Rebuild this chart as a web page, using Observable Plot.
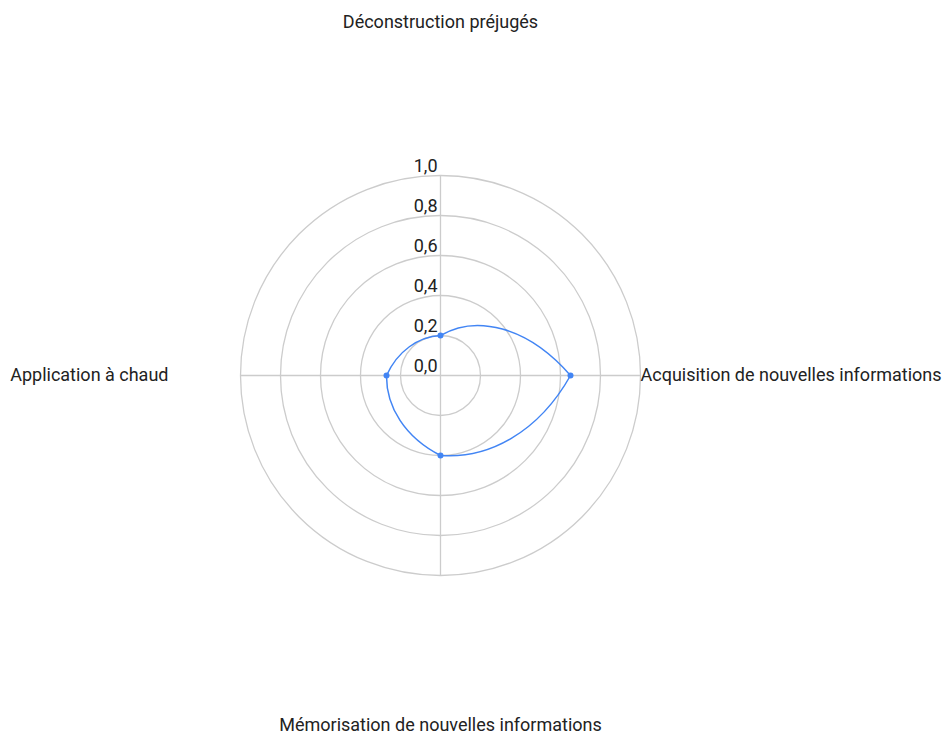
<!DOCTYPE html>
<html><head><meta charset="utf-8">
<script src="https://cdn.jsdelivr.net/npm/d3@7"></script>
<script src="https://cdn.jsdelivr.net/npm/@observablehq/plot@0.6"></script>
<style>body{margin:0;background:#fff;font-family:Roboto,sans-serif}</style>
</head><body><div id="chart"></div>
<script>
const categories = ["Déconstruction préjugés", "Acquisition de nouvelles informations", "Mémorisation de nouvelles informations", "Application à chaud"];
const values = [0.2, 0.65, 0.4, 0.27];
const ticks = [0, 0.2, 0.4, 0.6, 0.8, 1.0];

const W = 945, H = 734, ML = 240, MR = 305, MT = 175, MB = 159;
const CX = ML + (W - ML - MR) / 2, CY = MT + (H - MT - MB) / 2;

const n = categories.length;
const pts = categories.map((c, i) => {
  const a = (i / n) * 2 * Math.PI;
  return {c, v: values[i], x: values[i] * Math.sin(a), y: values[i] * Math.cos(a), lx: Math.sin(a), ly: Math.cos(a)};
});
const fmt = d3.formatLocale({decimal: ",", thousands: " ", grouping: [3], currency: ["", "€"]}).format(".1f");
const rings = ticks.filter(t => t > 0);

// Closed curve: each segment is linear in (angle, radius); its cubic control points are mapped back to the plane
function polarSegmentsClosed(context) {
  let P = [];
  return {
    areaStart() {}, areaEnd() {},
    lineStart() { P = []; },
    point(x, y) { P.push([x, y]); },
    lineEnd() {
      const m = P.length;
      if (!m) return;
      const pol = P.map(([x, y]) => [Math.atan2(x - CX, CY - y), Math.hypot(x - CX, y - CY)]);
      for (let i = 1; i < m; i++) { while (pol[i][0] < pol[i - 1][0]) pol[i][0] += 2 * Math.PI; }
      const get = j => {
        const k = ((j % m) + m) % m, turns = Math.floor(j / m);
        return [pol[k][0] + turns * 2 * Math.PI, pol[k][1]];
      };
      const cart = ([t, r]) => [CX + r * Math.sin(t), CY - r * Math.cos(t)];
      context.moveTo(...P[0]);
      for (let i = 0; i < m; i++) {
        const p1 = get(i), p2 = get(i + 1);
        const c1 = [p1[0] + (p2[0] - p1[0]) / 3, p1[1] + (p2[1] - p1[1]) / 3];
        const c2 = [p1[0] + 2 * (p2[0] - p1[0]) / 3, p1[1] + 2 * (p2[1] - p1[1]) / 3];
        const a = cart(c1), b = cart(c2), e = cart(p2);
        context.bezierCurveTo(a[0], a[1], b[0], b[1], e[0], e[1]);
      }
      context.closePath();
    }
  };
}

const lab = (i, opts) => Plot.text([pts[i]], {x: "lx", y: "ly", text: "c", fill: "#222", fontSize: 18, ...opts});

const chart = Plot.plot({
  width: W, height: H,
  marginLeft: ML, marginRight: MR, marginTop: MT, marginBottom: MB,
  x: {domain: [-1, 1], axis: null},
  y: {domain: [-1, 1], axis: null},
  r: {type: "linear", domain: [0, 1], range: [0, (W - ML - MR) / 2]},
  style: {fontFamily: "Roboto, sans-serif", background: "#fff"},
  marks: [
    Plot.dot(rings, {x: () => 0, y: () => 0, r: d => d, stroke: "#cccccc", strokeWidth: 1.3, fill: "none"}),
    Plot.ruleX([0], {y1: -1, y2: 1, stroke: "#cccccc", strokeWidth: 1.3, strokeOpacity: 1}),
    Plot.ruleY([0], {x1: -1, x2: 1, stroke: "#cccccc", strokeWidth: 1.3, strokeOpacity: 1}),
    Plot.text(ticks, {x: () => 0, y: d => d, text: d => fmt(d), textAnchor: "end", dx: -3, dy: -9, fontSize: 18, fill: "#222"}),
    Plot.line(pts, {x: "x", y: "y", curve: polarSegmentsClosed, stroke: "#4285F4", strokeWidth: 1.5}),
    Plot.dot(pts, {x: "x", y: "y", r: 3, fill: "#4285F4", stroke: "none"}),
    lab(0, {dy: -153}),
    lab(1, {textAnchor: "start", dx: 0}),
    lab(2, {dy: 150}),
    lab(3, {textAnchor: "end", dx: -72})
  ]
});
document.getElementById("chart").append(chart);
</script>
</body></html>
